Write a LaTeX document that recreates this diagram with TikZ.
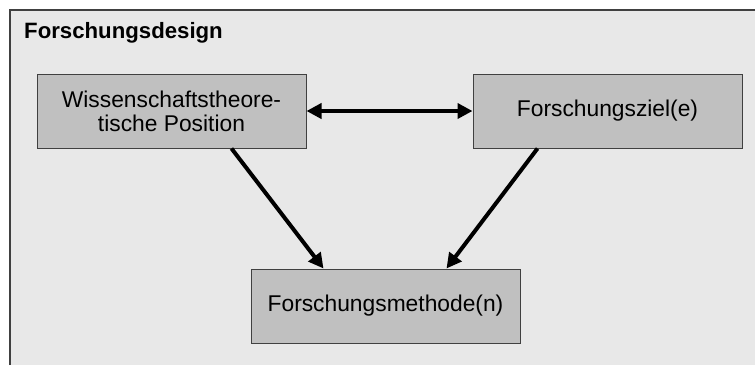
\documentclass[tikz,border=0pt]{standalone}
\usepackage{fontspec}
\setmainfont{Liberation Sans}
\usetikzlibrary{positioning,arrows.meta,calc}
\definecolor{panelgray}{HTML}{E8E8E8}
\definecolor{boxgray}{HTML}{C0C0C0}
\definecolor{framegray}{HTML}{404040}
\tikzset{
  designbox/.style={draw=framegray, fill=boxgray, line width=1pt,
    minimum width=269pt, minimum height=74pt, inner sep=0pt,
    align=center, font=\fontsize{22.8}{24}\selectfont},
  link/.style={line width=4pt, -{Triangle[length=15pt,width=15pt]}},
  biLink/.style={line width=4pt,
    {Triangle[length=15pt,width=15pt]}-{Triangle[length=15pt,width=15pt]}}
}
\begin{document}
\begin{tikzpicture}[x=1pt,y=-1pt]
 \useasboundingbox (0,0) rectangle (755,365);
 \fill[panelgray] (10,10) rectangle (755,365);
 \draw[framegray, line width=1.5pt] (10,365) -- (10,10) -- (755,10);
 \node[anchor=base west, inner sep=0pt, font=\bfseries\fontsize{22.2}{24}\selectfont] (title) at (24,38) {Forschungsdesign};
 \node[designbox] (wiss) at (171.5,111) {Wissenschaftstheore-\\tische Position};
 \node[designbox, right=166pt of wiss] (ziel) {Forschungsziel(e)};
 \coordinate (mid) at ($(wiss.south)!0.5!(ziel.south)$);
 \node[designbox, below=120pt of mid, xshift=-4pt] (methode) {Forschungsmethode(n)};
 \draw[biLink] (wiss) -- (ziel);
 \draw[link] ([xshift=60pt]wiss.south) -- ([xshift=-62pt]methode.north);
 \draw[link] ([xshift=-70pt]ziel.south) -- ([xshift=61pt]methode.north);
\end{tikzpicture}
\end{document}
